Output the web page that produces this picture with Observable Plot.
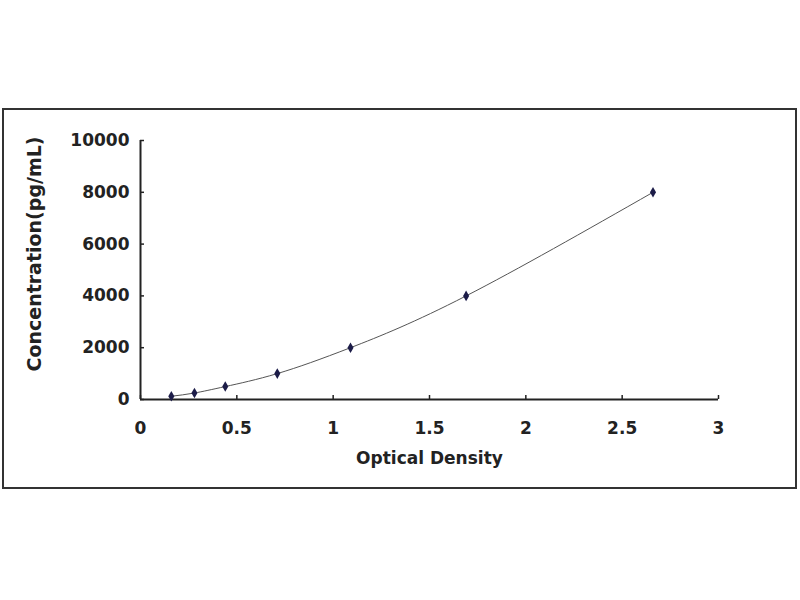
<!DOCTYPE html>
<html>
<head>
<meta charset="utf-8">
<script src="https://cdn.jsdelivr.net/npm/d3@7"></script>
<script src="https://cdn.jsdelivr.net/npm/@observablehq/plot@0.6"></script>
<style>
  html, body { margin: 0; padding: 0; background: #fff; }
  #wrap { position: relative; width: 800px; height: 600px; }
  #box {
    position: absolute; left: 2px; top: 108px; width: 791px; height: 377px;
    border: 2px solid #333;
  }
  #chart { position: absolute; left: 0; top: 0; }
</style>
</head>
<body>
<div id="wrap">
  <div id="box"></div>
  <div id="chart"></div>
</div>
<script>
// Standard curve
const od = [0.16, 0.28, 0.44, 0.71, 1.09, 1.69, 2.66];
const conc = [125, 250, 500, 1000, 2000, 4000, 8000];
const xTicks = [0, 0.5, 1, 1.5, 2, 2.5, 3];
const yTicks = [0, 2000, 4000, 6000, 8000, 10000];

const points = od.map((x, i) => ({od: x, conc: conc[i]}));

const font = "DejaVu Sans, sans-serif";
const ink = "#222";

const chart = Plot.plot({
  width: 800,
  height: 600,
  marginLeft: 140,
  marginRight: 82,
  marginTop: 140,
  marginBottom: 201,
  style: {fontFamily: font, color: ink, background: "transparent", overflow: "visible"},
  x: {domain: [0, 3]},
  y: {domain: [0, 10000]},
  marks: [
    Plot.axisX(xTicks, {
      tickSize: -4, tickPadding: 26, label: null,
      fontSize: 17, fontWeight: "bold", stroke: ink, strokeWidth: 1.5,
      tickFormat: d => String(d)
    }),
    Plot.axisY(yTicks, {
      tickSize: -4, tickPadding: 15, label: null,
      fontSize: 17, fontWeight: "bold", stroke: ink, strokeWidth: 1.5,
      tickFormat: d => String(d)
    }),
    Plot.ruleY([0], {stroke: ink, strokeWidth: 2}),
    Plot.ruleX([0], {stroke: ink, strokeWidth: 2}),
    Plot.line(points, {x: "od", y: "conc", curve: "natural", stroke: "#555", strokeWidth: 1}),
    Plot.dot(points, {x: "od", y: "conc", symbol: "diamond", r: 3.2, fill: "#1c1c48", stroke: "none"}),
    Plot.text(["Optical Density"], {
      frameAnchor: "bottom", dy: 64, fontSize: 17, fontWeight: "bold", fill: ink
    }),
    Plot.text(["Concentration(pg/mL)"], {
      frameAnchor: "left", textAnchor: "middle", dx: -106, dy: -16, rotate: -90,
      fontSize: 19, fontWeight: "bold", fill: ink
    })
  ]
});

document.getElementById("chart").appendChild(chart);
</script>
</body>
</html>
